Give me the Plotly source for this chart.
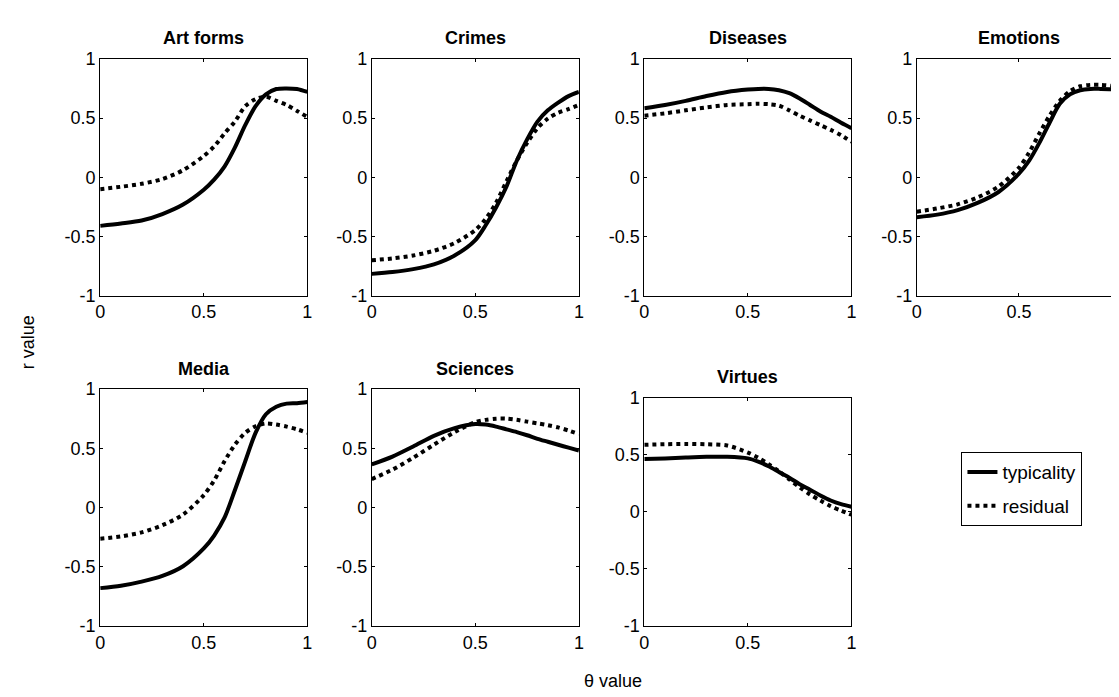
import plotly.graph_objects as go

W, H = 1119, 697

theta = [0, 0.1, 0.2, 0.3, 0.4, 0.5, 0.55, 0.6, 0.65, 0.7, 0.75, 0.8, 0.85, 0.9, 0.95, 1.0]

categories = ["Art forms", "Crimes", "Diseases", "Emotions", "Media", "Sciences", "Virtues"]

typ_art = [-0.41, -0.39, -0.365, -0.31, -0.23, -0.105, -0.02, 0.09, 0.25, 0.44, 0.60, 0.70, 0.745, 0.75, 0.745, 0.72]
res_art = [-0.10, -0.08, -0.055, -0.015, 0.06, 0.18, 0.26, 0.37, 0.47, 0.60, 0.66, 0.68, 0.645, 0.61, 0.56, 0.51]
typ_crimes = [-0.815, -0.80, -0.775, -0.735, -0.66, -0.53, -0.405, -0.255, -0.08, 0.14, 0.32, 0.47, 0.565, 0.63, 0.685, 0.72]
res_crimes = [-0.70, -0.685, -0.66, -0.62, -0.555, -0.445, -0.35, -0.215, -0.035, 0.14, 0.29, 0.415, 0.495, 0.545, 0.575, 0.61]
typ_diseases = [0.583, 0.61, 0.645, 0.686, 0.72, 0.74, 0.746, 0.746, 0.735, 0.71, 0.665, 0.61, 0.555, 0.51, 0.46, 0.415]
res_diseases = [0.52, 0.54, 0.565, 0.59, 0.61, 0.617, 0.62, 0.617, 0.605, 0.565, 0.52, 0.48, 0.44, 0.40, 0.355, 0.30]
typ_emotions = [-0.337, -0.315, -0.277, -0.214, -0.124, 0.03, 0.14, 0.29, 0.46, 0.62, 0.70, 0.735, 0.746, 0.746, 0.744, 0.735]
res_emotions = [-0.29, -0.263, -0.228, -0.168, -0.078, 0.08, 0.21, 0.37, 0.52, 0.645, 0.727, 0.768, 0.78, 0.78, 0.773, 0.755]
typ_media = [-0.68, -0.66, -0.625, -0.577, -0.495, -0.345, -0.236, -0.086, 0.146, 0.39, 0.63, 0.787, 0.85, 0.877, 0.88, 0.89]
res_media = [-0.263, -0.244, -0.209, -0.149, -0.059, 0.105, 0.228, 0.39, 0.53, 0.63, 0.686, 0.71, 0.70, 0.683, 0.66, 0.63]
typ_sciences = [0.364, 0.43, 0.515, 0.605, 0.67, 0.705, 0.70, 0.683, 0.66, 0.637, 0.61, 0.58, 0.555, 0.53, 0.505, 0.48]
res_sciences = [0.24, 0.32, 0.42, 0.53, 0.637, 0.72, 0.74, 0.75, 0.75, 0.74, 0.725, 0.71, 0.695, 0.676, 0.65, 0.62]
typ_virtues = [0.463, 0.469, 0.477, 0.483, 0.483, 0.469, 0.44, 0.40, 0.35, 0.30, 0.243, 0.195, 0.144, 0.10, 0.068, 0.045]
res_virtues = [0.588, 0.593, 0.596, 0.593, 0.582, 0.52, 0.475, 0.418, 0.356, 0.285, 0.215, 0.153, 0.10, 0.05, 0.011, -0.025]

typicality = [typ_art, typ_crimes, typ_diseases, typ_emotions, typ_media, typ_sciences, typ_virtues]
residual = [res_art, res_crimes, res_diseases, res_emotions, res_media, res_sciences, res_virtues]

x_ticks = [0, 0.5, 1]
x_ticklabels = ["0", "0.5", "1"]
y_ticks = [-1, -0.5, 0, 0.5, 1]
y_ticklabels = ["-1", "-0.5", "0", "0.5", "1"]

FONT = "Arial, Liberation Sans, sans-serif"

# panel pixel boxes (left, right, top, bottom)
col_left = [88, 362, 637, 912]
pw = 209
boxes = []
for i in range(7):
    r, c = divmod(i, 4)
    left = col_left[c]
    right = min(left + pw, W - 1)
    if r == 0:
        top, bot = 42, 286
    else:
        top, bot = (391 if i == 6 else 382), 626
    boxes.append((left, right, top, bot))

fig = go.Figure()
layout = dict(
    width=W, height=H,
    margin=dict(l=0, r=0, t=0, b=0),
    paper_bgcolor="white", plot_bgcolor="white",
    font=dict(family=FONT, size=18, color="black"),
    showlegend=True,
    legend=dict(
        x=957 / W, y=1 - 447 / H, xanchor="left", yanchor="top",
        bordercolor="black", borderwidth=1, bgcolor="white",
        font=dict(family=FONT, size=19, color="black"),
        tracegroupgap=6, traceorder="grouped",
    ),
)
annotations = []

for i, name in enumerate(categories):
    k = "" if i == 0 else str(i + 1)
    left, right, top, bot = boxes[i]
    xd = [left / W, right / W]
    yd = [1 - bot / H, 1 - top / H]
    axis_common = dict(
        showline=True, linecolor="black", linewidth=1, mirror="ticks",
        ticks="inside", ticklen=3, tickcolor="black", tickwidth=1,
        showgrid=False, zeroline=False, fixedrange=True,
        tickfont=dict(family=FONT, size=18, color="black"),
    )
    layout["xaxis" + k] = dict(
        domain=xd, range=[0, 1], tickvals=x_ticks, ticktext=x_ticklabels,
        anchor="y" + k, **axis_common,
    )
    layout["yaxis" + k] = dict(
        domain=yd, range=[-1, 1], tickvals=y_ticks, ticktext=y_ticklabels,
        anchor="x" + k, **axis_common,
    )
    fig.add_trace(go.Scatter(
        x=theta, y=typicality[i], mode="lines", name="typicality",
        line=dict(color="black", width=4, shape="spline", smoothing=0.8),
        xaxis="x" + k, yaxis="y" + k, showlegend=(i == 0), legendgroup="typ",
        hoverinfo="skip",
    ))
    fig.add_trace(go.Scatter(
        x=theta, y=residual[i], mode="lines", name="residual",
        line=dict(color="black", width=4, dash="dot", shape="spline", smoothing=0.8),
        xaxis="x" + k, yaxis="y" + k, showlegend=(i == 0), legendgroup="res",
        hoverinfo="skip",
    ))
    annotations.append(dict(
        text="<b>%s</b>" % name, xref="paper", yref="paper",
        x=(left + right) / 2 / W, y=1 - (top - 21) / H,
        xanchor="center", yanchor="middle", showarrow=False,
        font=dict(family=FONT, size=18, color="black"),
    ))

annotations.append(dict(
    text="r value", xref="paper", yref="paper", x=16 / W, y=1 - 334 / H,
    xanchor="center", yanchor="middle", showarrow=False, textangle=-90,
    font=dict(family=FONT, size=18, color="black"),
))
annotations.append(dict(
    text="θ value", xref="paper", yref="paper", x=605 / W, y=1 - 683 / H,
    xanchor="center", yanchor="middle", showarrow=False,
    font=dict(family=FONT, size=18, color="black"),
))
layout["annotations"] = annotations
fig.update_layout(**layout)

fig.write_html("out.html")
